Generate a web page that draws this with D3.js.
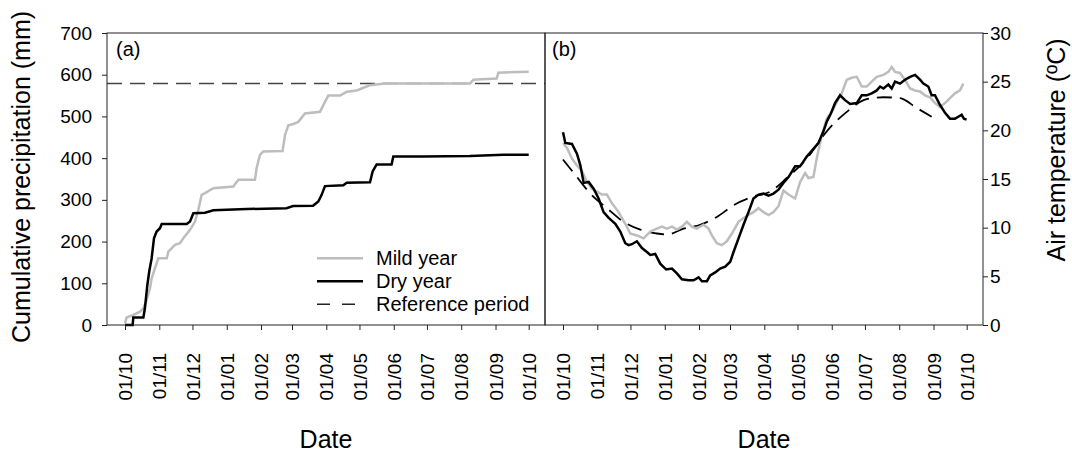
<!doctype html>
<html lang="en">
<head>
<meta charset="UTF-8">
<title>Precipitation and temperature</title>
<style>
  body { margin: 0; background: #fff; }
  svg { display: block; font-family: "Liberation Sans", Arial, sans-serif; }
</style>
</head>
<body>
<svg></svg>
<script src="https://cdn.jsdelivr.net/npm/d3@7"></script>
<script>
// days counted from 1 October
const tickLabels = ["01/10","01/11","01/12","01/01","01/02","01/03","01/04","01/05","01/06","01/07","01/08","01/09","01/10"];
const legendLabels = ["Mild year", "Dry year", "Reference period"];

// (a) cumulative precipitation, mm
const precMild = [[0,4],[1.5,18],[7.5,24],[13.6,32],[16.6,40],[19.6,60],[22.6,88],[24.1,112],[30.1,160],[37.7,160],[39.2,176],[45.2,192],[49.7,196],[52.7,208],[58.8,228],[63.3,248],[66.3,276],[69.3,312],[72.3,316],[79.9,328],[97.9,332],[102.5,348],[117.5,348],[119,376],[122,408],[125,416],[142.5,417],[144.7,456],[147.7,479],[152.2,482],[156.7,487],[162.7,507],[176.3,511],[179.3,527],[183.8,550],[194.4,550],[200.4,559],[209.4,562],[213.9,567],[221.5,575],[235,579],[312,579],[315,588],[336,591],[337.6,605],[365,607]];
const precDry = [[0,0],[6.9,0],[7.5,18],[16.6,18],[18,40],[20.2,96],[22,130],[24.1,160],[26.2,208],[28.6,224],[31.6,232],[33.2,242],[55.8,242],[58.8,248],[61.8,268],[72.3,269],[79.9,275],[110,278],[146,280],[152,285],[170,286],[174.8,296],[177.8,312],[180.8,333],[197.4,335],[200.4,341],[221.5,342],[223.9,368],[227.5,385],[241,385],[242.6,404],[269.7,404],[312,405],[342,408],[365,408]];
const precRef = 579;

// (b) air temperature, ºC
const tempMild = [[0,18.7],[3.6,18.2],[8.1,17.1],[12.6,16.4],[17.2,15.8],[21.7,14.7],[26.2,14.0],[30.7,13.7],[35.2,13.4],[39.7,13.4],[44.3,12.5],[50.3,11.6],[56.3,10.4],[60.8,9.4],[66.8,9.2],[72.9,8.9],[78.9,9.6],[84.9,9.9],[89.4,10.1],[93.9,9.9],[98.5,10.1],[103,9.8],[107.5,10.1],[112,10.6],[116.5,10.1],[121,9.9],[127.1,10.3],[131.6,9.9],[134.6,9.2],[139.1,8.4],[143.6,8.2],[148.1,8.6],[152.7,9.4],[158.7,10.6],[163.2,11.0],[167.7,11.3],[172.2,11.6],[176.8,12.0],[181.3,11.6],[185.8,11.3],[190.3,11.6],[194.8,12.2],[199.3,13.8],[203.9,13.4],[209.9,13.0],[214.4,14.7],[218.9,15.6],[221.9,15.1],[226.4,15.2],[229.4,17.1],[234,19.5],[238.5,21.2],[243,21.9],[247.5,22.9],[252,23.8],[256.6,25.2],[261.1,25.4],[265.6,25.5],[270.1,24.5],[274.6,24.5],[279.1,25.0],[283.7,25.5],[289.7,25.7],[294.2,26.0],[297.2,26.5],[300.2,26.0],[304.7,25.9],[309.2,25.2],[313.8,24.3],[318.3,24.1],[322.8,24.0],[327.3,23.6],[331.8,23.4],[336.3,22.8],[340.9,22.4],[345.4,22.8],[349.9,23.3],[354.4,23.8],[358.9,24.1],[361.9,24.8]];
const tempDry = [[0,19.8],[2.1,18.7],[8.1,18.6],[12.6,17.6],[15.7,16.4],[18.7,14.6],[23.2,14.7],[27.7,14.0],[32.2,13.0],[36.7,11.6],[41.3,11.0],[47.3,10.4],[51.8,9.6],[56.3,8.4],[59.3,8.2],[62.3,8.3],[66.8,8.6],[71.4,7.9],[75.9,7.5],[78.9,7.2],[83.4,7.3],[87.9,6.3],[93.3,5.7],[98.5,5.8],[103,5.3],[107.5,4.7],[113.5,4.6],[118,4.6],[122.6,4.9],[125.6,4.5],[130.1,4.5],[133.1,5.1],[137.6,5.4],[142.1,5.8],[146.6,6.0],[151.2,6.5],[154.2,7.5],[158.7,8.9],[163.2,10.3],[167.7,11.6],[172.2,13.0],[176.8,13.4],[181.3,13.5],[185.8,13.3],[190.3,13.5],[194.8,13.9],[199.3,14.6],[203.9,15.2],[209.9,16.3],[214.4,16.3],[220.4,17.3],[224.9,17.9],[230.9,18.7],[235.5,19.9],[238.5,20.9],[242.1,21.7],[246,22.8],[250.5,23.6],[255,23.1],[259.6,22.7],[265.6,22.8],[270.1,23.6],[274.6,23.6],[279.1,23.8],[283.7,24.1],[286.7,24.5],[289.7,24.3],[294.2,24.7],[297.2,24.3],[300.2,25.0],[304.7,24.8],[309.2,25.2],[313.8,25.5],[318.3,25.7],[322.8,25.2],[325.8,24.8],[330.3,24.5],[333.3,23.6],[336.3,23.6],[340.9,22.6],[345.4,21.8],[349.9,21.2],[354.4,21.2],[357.4,21.4],[360.4,21.6],[362.5,21.2],[364.9,21.1]];
const tempRef = [[0,17.0],[12.6,15.2],[24.7,13.5],[39.7,12.0],[54.8,10.6],[69.9,9.8],[84.9,9.4],[93.9,9.3],[109,9.9],[124,10.3],[139.1,11.1],[154.2,12.3],[172.2,13.2],[187.3,13.7],[202.3,15.1],[220.4,17.1],[238.5,19.9],[256.6,21.9],[274.6,23.2],[289.7,23.4],[304.7,23.3],[319.8,22.3],[333.3,21.4]];

const width = 1072, height = 455;
const plotTop = 33, plotBottom = 325;
const panels = [{x0: 107, x1: 545}, {x0: 545, x1: 983}];
const padL = 18, padR = 16.3;
const start = Date.UTC(2010, 9, 1), end = Date.UTC(2011, 9, 1);
const toDate = d => new Date(start + d * 864e5);
const grey = "#bdbdbd", ink = "#000";

const svg = d3.select("svg").attr("width", width).attr("height", height);

const xA = d3.scaleUtc().domain([start, end]).range([panels[0].x0 + padL, panels[0].x1 - padR]);
const xB = d3.scaleUtc().domain([start, end]).range([panels[1].x0 + padL, panels[1].x1 - padR]);
const yA = d3.scaleLinear().domain([0, 700]).range([plotBottom, plotTop]);
const yB = d3.scaleLinear().domain([0, 30]).range([plotBottom, plotTop]);

function line(x, y, curve) {
    return d3.line().x(d => x(toDate(d[0]))).y(d => y(d[1])).curve(curve || d3.curveLinear);
}

// (a)
svg.append("line")
   .attr("x1", panels[0].x0).attr("x2", panels[0].x1)
   .attr("y1", yA(precRef)).attr("y2", yA(precRef))
   .attr("stroke", "#444").attr("stroke-width", 1.5).attr("stroke-dasharray", "15,8");
svg.append("path").datum(precMild).attr("d", line(xA, yA))
   .attr("fill", "none").attr("stroke", grey).attr("stroke-width", 2.5);
svg.append("path").datum(precDry).attr("d", line(xA, yA))
   .attr("fill", "none").attr("stroke", ink).attr("stroke-width", 2.5);

// (b)
svg.append("path").datum(tempRef).attr("d", line(xB, yB, d3.curveMonotoneX))
   .attr("fill", "none").attr("stroke", ink).attr("stroke-width", 1.8).attr("stroke-dasharray", "15,8");
svg.append("path").datum(tempMild).attr("d", line(xB, yB))
   .attr("fill", "none").attr("stroke", grey).attr("stroke-width", 2.5);
svg.append("path").datum(tempDry).attr("d", line(xB, yB))
   .attr("fill", "none").attr("stroke", ink).attr("stroke-width", 2.5);

// frames
panels.forEach(p => {
    svg.append("rect")
       .attr("x", p.x0).attr("y", plotTop).attr("width", p.x1 - p.x0).attr("height", plotBottom - plotTop)
       .attr("fill", "none").attr("stroke", "#222").attr("stroke-width", 1);
});

// axes
const months = d3.utcMonth.range(start, end + 1);
function styleAxis(g) {
    g.select(".domain").remove();
    g.selectAll(".tick line").attr("stroke", "#222");
    g.selectAll("text").attr("font-size", 19).attr("fill", "#000").attr("font-family", "Liberation Sans, Arial, sans-serif");
}
[xA, xB].forEach(x => {
    svg.append("g").attr("transform", `translate(0,${plotBottom})`)
       .call(d3.axisBottom(x).tickValues(months).tickSize(5).tickFormat((d, i) => tickLabels[i]))
       .call(styleAxis)
       .call(g => g.selectAll("text")
           .attr("transform", "rotate(-90)")
           .attr("x", -28).attr("y", 0).attr("dy", "0.35em")
           .style("text-anchor", "end"));
});
svg.append("g").attr("transform", `translate(${panels[0].x0},0)`)
   .call(d3.axisLeft(yA).tickValues(d3.range(0, 701, 100)).tickSize(5).tickPadding(10))
   .call(styleAxis);
svg.append("g").attr("transform", `translate(${panels[1].x1},0)`)
   .call(d3.axisRight(yB).tickValues(d3.range(0, 31, 5)).tickSize(5).tickPadding(2))
   .call(styleAxis);

// titles
const title = (x, y, txt, rot) => svg.append("text")
    .attr("transform", `translate(${x},${y})` + (rot ? " rotate(-90)" : ""))
    .attr("text-anchor", "middle").attr("font-size", 25).text(txt);
title(30, 177, "Cumulative precipitation (mm)", true);
title(1065, 150, "Air temperature (ºC)", true);
title((panels[0].x0 + panels[0].x1) / 2, 448, "Date");
title((panels[1].x0 + panels[1].x1) / 2, 448, "Date");

svg.append("text").attr("x", 116).attr("y", 56).attr("font-size", 20).text("(a)");
svg.append("text").attr("x", 552).attr("y", 56).attr("font-size", 20).text("(b)");

// legend
const legend = [
    {stroke: grey, dash: null, w: 2.5},
    {stroke: ink, dash: null, w: 2.5},
    {stroke: "#222", dash: "13,12", w: 1.5}
];
legend.forEach((l, i) => {
    const ly = 258.3 + i * 23;
    svg.append("line").attr("x1", 317).attr("x2", 363).attr("y1", ly).attr("y2", ly)
       .attr("stroke", l.stroke).attr("stroke-width", l.w).attr("stroke-dasharray", l.dash);
    svg.append("text").attr("x", 376).attr("y", ly).attr("dy", "0.35em")
       .attr("font-size", 20).text(legendLabels[i]);
});
</script>
</body>
</html>
